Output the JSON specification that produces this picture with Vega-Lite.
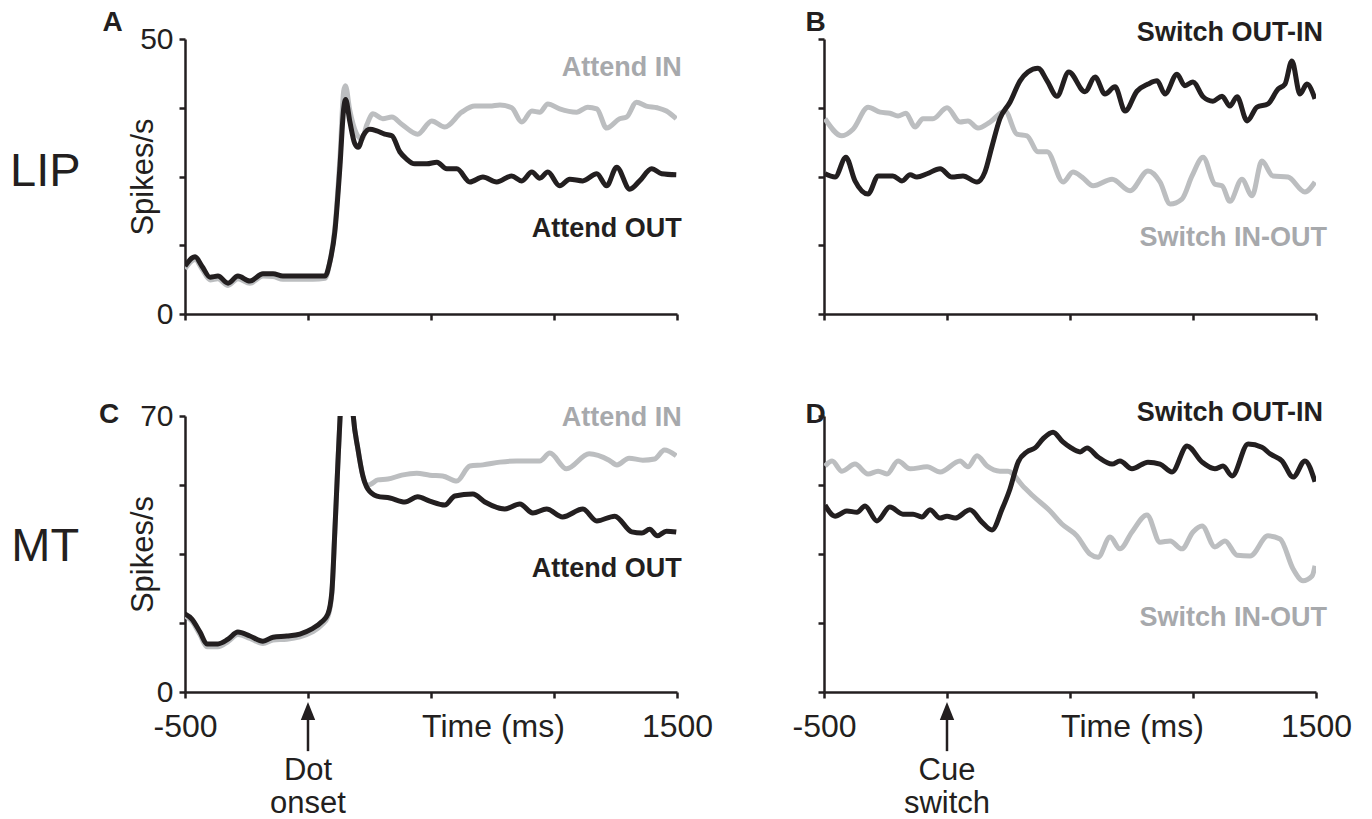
{
  "$schema": "https://vega.github.io/schema/vega-lite/v6.json",
  "background": "white",
  "padding": {"left": 9, "top": 9, "right": 5, "bottom": 2},
  "config": {
    "view": {"stroke": null},
    "font": "Liberation Sans",
    "axis": {
      "grid": false,
      "domainColor": "#231f20",
      "domainWidth": 2.5,
      "tickColor": "#231f20",
      "tickWidth": 2.5,
      "tickSize": 6,
      "labelFont": "Liberation Sans",
      "labelFontSize": 30,
      "labelColor": "#231f20",
      "labelFlush": false,
      "labelPadding": 6,
      "titleFont": "Liberation Sans",
      "titleFontSize": 31,
      "titleFontWeight": "normal",
      "titleColor": "#231f20"
    }
  },
  "columns": 2,
  "spacing": {"row": 102, "column": 147},
  "bounds": "flush",
  "datasets": {
    "A": [
      {"s":"o","t":-500,"v":8.7},{"s":"o","t":-459,"v":10.4},{"s":"o","t":-431,"v":8.7},{"s":"o","t":-398,"v":6.7},{"s":"o","t":-366,"v":6.9},{"s":"o","t":-325,"v":5.6},{"s":"o","t":-285,"v":6.9},{"s":"o","t":-236,"v":6.0},{"s":"o","t":-183,"v":7.3},{"s":"o","t":-142,"v":7.3},{"s":"o","t":-102,"v":6.9},{"s":"o","t":-33,"v":6.9},{"s":"o","t":20,"v":6.9},{"s":"o","t":69,"v":6.9},{"s":"o","t":89,"v":9.5},{"s":"o","t":109,"v":14.9},{"s":"o","t":130,"v":26.9},{"s":"o","t":145,"v":37.3},{"s":"o","t":153,"v":39.0},{"s":"o","t":170,"v":35.0},{"s":"o","t":190,"v":31.0},{"s":"o","t":204,"v":30.3},{"s":"o","t":225,"v":32.5},{"s":"o","t":251,"v":33.6},{"s":"o","t":280,"v":33.3},{"s":"o","t":312,"v":32.7},{"s":"o","t":341,"v":32.4},{"s":"o","t":373,"v":29.5},{"s":"o","t":400,"v":28.2},{"s":"o","t":434,"v":27.3},{"s":"o","t":483,"v":27.3},{"s":"o","t":524,"v":27.6},{"s":"o","t":564,"v":26.4},{"s":"o","t":605,"v":26.4},{"s":"o","t":658,"v":24.0},{"s":"o","t":711,"v":24.9},{"s":"o","t":767,"v":24.0},{"s":"o","t":828,"v":25.1},{"s":"o","t":869,"v":24.2},{"s":"o","t":910,"v":25.8},{"s":"o","t":942,"v":24.7},{"s":"o","t":975,"v":25.8},{"s":"o","t":1023,"v":23.3},{"s":"o","t":1064,"v":24.5},{"s":"o","t":1117,"v":24.2},{"s":"o","t":1174,"v":25.5},{"s":"o","t":1214,"v":23.3},{"s":"o","t":1255,"v":26.7},{"s":"o","t":1308,"v":22.7},{"s":"o","t":1348,"v":24.2},{"s":"o","t":1397,"v":26.4},{"s":"o","t":1438,"v":25.5},{"s":"o","t":1497,"v":25.3},
      {"s":"i","t":-500,"v":8.2},{"s":"i","t":-459,"v":9.9},{"s":"i","t":-431,"v":8.2},{"s":"i","t":-398,"v":6.2},{"s":"i","t":-366,"v":6.4},{"s":"i","t":-325,"v":5.2},{"s":"i","t":-285,"v":6.4},{"s":"i","t":-236,"v":5.6},{"s":"i","t":-183,"v":6.9},{"s":"i","t":-142,"v":6.8},{"s":"i","t":-102,"v":6.3},{"s":"i","t":-33,"v":6.3},{"s":"i","t":20,"v":6.3},{"s":"i","t":69,"v":6.5},{"s":"i","t":89,"v":9.5},{"s":"i","t":109,"v":15.5},{"s":"i","t":130,"v":28.5},{"s":"i","t":145,"v":40.5},{"s":"i","t":152,"v":41.5},{"s":"i","t":170,"v":37.0},{"s":"i","t":195,"v":33.0},{"s":"i","t":219,"v":31.8},{"s":"i","t":240,"v":34.5},{"s":"i","t":264,"v":36.4},{"s":"i","t":304,"v":35.5},{"s":"i","t":341,"v":35.8},{"s":"i","t":381,"v":34.5},{"s":"i","t":446,"v":32.7},{"s":"i","t":503,"v":35.1},{"s":"i","t":556,"v":34.0},{"s":"i","t":625,"v":36.7},{"s":"i","t":678,"v":37.8},{"s":"i","t":739,"v":37.8},{"s":"i","t":780,"v":38.0},{"s":"i","t":828,"v":37.5},{"s":"i","t":869,"v":34.9},{"s":"i","t":910,"v":36.9},{"s":"i","t":942,"v":36.7},{"s":"i","t":975,"v":38.2},{"s":"i","t":1023,"v":37.3},{"s":"i","t":1092,"v":36.7},{"s":"i","t":1137,"v":37.6},{"s":"i","t":1174,"v":37.3},{"s":"i","t":1214,"v":33.8},{"s":"i","t":1267,"v":35.5},{"s":"i","t":1295,"v":35.8},{"s":"i","t":1335,"v":38.5},{"s":"i","t":1375,"v":37.8},{"s":"i","t":1420,"v":37.5},{"s":"i","t":1457,"v":36.9},{"s":"i","t":1497,"v":35.5}
    ],
    "B": [
      {"s":"o","t":-496,"v":25.5},{"s":"o","t":-455,"v":24.9},{"s":"o","t":-411,"v":28.5},{"s":"o","t":-374,"v":24.2},{"s":"o","t":-321,"v":21.8},{"s":"o","t":-280,"v":25.1},{"s":"o","t":-220,"v":25.1},{"s":"o","t":-183,"v":24.2},{"s":"o","t":-150,"v":25.3},{"s":"o","t":-122,"v":24.9},{"s":"o","t":-81,"v":25.5},{"s":"o","t":-28,"v":26.4},{"s":"o","t":20,"v":24.9},{"s":"o","t":65,"v":25.1},{"s":"o","t":122,"v":24.0},{"s":"o","t":154,"v":25.8},{"s":"o","t":183,"v":30.5},{"s":"o","t":215,"v":35.5},{"s":"o","t":256,"v":38.5},{"s":"o","t":297,"v":42.4},{"s":"o","t":329,"v":44.0},{"s":"o","t":370,"v":44.7},{"s":"o","t":407,"v":42.4},{"s":"o","t":447,"v":39.6},{"s":"o","t":495,"v":44.0},{"s":"o","t":561,"v":40.4},{"s":"o","t":602,"v":43.1},{"s":"o","t":642,"v":40.0},{"s":"o","t":683,"v":41.3},{"s":"o","t":724,"v":36.9},{"s":"o","t":772,"v":40.5},{"s":"o","t":817,"v":41.8},{"s":"o","t":854,"v":42.4},{"s":"o","t":886,"v":40.0},{"s":"o","t":935,"v":43.6},{"s":"o","t":967,"v":41.5},{"s":"o","t":1000,"v":42.2},{"s":"o","t":1041,"v":39.5},{"s":"o","t":1081,"v":38.7},{"s":"o","t":1118,"v":39.6},{"s":"o","t":1150,"v":37.8},{"s":"o","t":1179,"v":39.5},{"s":"o","t":1220,"v":35.1},{"s":"o","t":1260,"v":37.6},{"s":"o","t":1305,"v":38.2},{"s":"o","t":1346,"v":40.9},{"s":"o","t":1374,"v":41.8},{"s":"o","t":1402,"v":46.0},{"s":"o","t":1435,"v":40.0},{"s":"o","t":1463,"v":41.8},{"s":"o","t":1496,"v":39.1},
      {"s":"i","t":-496,"v":35.5},{"s":"i","t":-427,"v":32.4},{"s":"i","t":-382,"v":33.6},{"s":"i","t":-321,"v":37.6},{"s":"i","t":-272,"v":36.7},{"s":"i","t":-232,"v":36.5},{"s":"i","t":-199,"v":36.0},{"s":"i","t":-167,"v":36.5},{"s":"i","t":-130,"v":34.0},{"s":"i","t":-98,"v":35.5},{"s":"i","t":-57,"v":35.5},{"s":"i","t":0,"v":37.5},{"s":"i","t":53,"v":34.9},{"s":"i","t":85,"v":35.1},{"s":"i","t":126,"v":33.8},{"s":"i","t":175,"v":34.9},{"s":"i","t":236,"v":36.9},{"s":"i","t":284,"v":32.7},{"s":"i","t":325,"v":32.4},{"s":"i","t":370,"v":29.5},{"s":"i","t":407,"v":29.5},{"s":"i","t":472,"v":24.0},{"s":"i","t":512,"v":25.8},{"s":"i","t":549,"v":24.9},{"s":"i","t":594,"v":23.3},{"s":"i","t":671,"v":24.5},{"s":"i","t":744,"v":22.4},{"s":"i","t":817,"v":26.0},{"s":"i","t":866,"v":24.0},{"s":"i","t":907,"v":20.0},{"s":"i","t":955,"v":20.9},{"s":"i","t":996,"v":25.1},{"s":"i","t":1041,"v":28.5},{"s":"i","t":1089,"v":23.6},{"s":"i","t":1118,"v":23.3},{"s":"i","t":1150,"v":20.5},{"s":"i","t":1199,"v":24.5},{"s":"i","t":1240,"v":21.5},{"s":"i","t":1280,"v":27.8},{"s":"i","t":1325,"v":25.1},{"s":"i","t":1386,"v":24.9},{"s":"i","t":1455,"v":22.2},{"s":"i","t":1496,"v":24.0}
    ],
    "C": [
      {"s":"o","t":-500,"v":19.8},{"s":"o","t":-472,"v":18.5},{"s":"o","t":-439,"v":15.2},{"s":"o","t":-411,"v":12.2},{"s":"o","t":-366,"v":12.2},{"s":"o","t":-325,"v":13.4},{"s":"o","t":-285,"v":15.2},{"s":"o","t":-236,"v":14.2},{"s":"o","t":-183,"v":12.9},{"s":"o","t":-142,"v":13.9},{"s":"o","t":-86,"v":14.2},{"s":"o","t":-33,"v":14.7},{"s":"o","t":16,"v":16.0},{"s":"o","t":56,"v":17.8},{"s":"o","t":81,"v":19.8},{"s":"o","t":97,"v":25.4},{"s":"o","t":109,"v":40.6},{"s":"o","t":121,"v":57.3},{"s":"o","t":130,"v":69.2},{"s":"o","t":145,"v":85},{"s":"o","t":160,"v":88},{"s":"o","t":175,"v":78},{"s":"o","t":184,"v":70},{"s":"o","t":203,"v":61.6},{"s":"o","t":223,"v":54.8},{"s":"o","t":243,"v":51.5},{"s":"o","t":280,"v":49.7},{"s":"o","t":333,"v":49.2},{"s":"o","t":394,"v":48.2},{"s":"o","t":446,"v":49.5},{"s":"o","t":495,"v":48.4},{"s":"o","t":556,"v":47.4},{"s":"o","t":597,"v":49.7},{"s":"o","t":670,"v":50.2},{"s":"o","t":719,"v":48.2},{"s":"o","t":800,"v":46.4},{"s":"o","t":861,"v":47.7},{"s":"o","t":914,"v":45.4},{"s":"o","t":970,"v":46.4},{"s":"o","t":1035,"v":44.4},{"s":"o","t":1117,"v":46.4},{"s":"o","t":1174,"v":43.4},{"s":"o","t":1247,"v":44.6},{"s":"o","t":1316,"v":40.6},{"s":"o","t":1357,"v":40.3},{"s":"o","t":1389,"v":41.3},{"s":"o","t":1420,"v":39.6},{"s":"o","t":1457,"v":40.8},{"s":"o","t":1497,"v":40.6},
      {"s":"i","t":-500,"v":19.3},{"s":"i","t":-472,"v":18.0},{"s":"i","t":-439,"v":14.5},{"s":"i","t":-411,"v":11.5},{"s":"i","t":-366,"v":11.5},{"s":"i","t":-325,"v":12.8},{"s":"i","t":-285,"v":14.6},{"s":"i","t":-236,"v":13.6},{"s":"i","t":-183,"v":12.3},{"s":"i","t":-142,"v":13.2},{"s":"i","t":-86,"v":13.4},{"s":"i","t":-33,"v":14.0},{"s":"i","t":16,"v":15.2},{"s":"i","t":56,"v":17.0},{"s":"i","t":81,"v":19.2},{"s":"i","t":97,"v":25.0},{"s":"i","t":109,"v":40.6},{"s":"i","t":121,"v":57.3},{"s":"i","t":130,"v":69.2},{"s":"i","t":145,"v":85},{"s":"i","t":160,"v":88},{"s":"i","t":175,"v":78},{"s":"i","t":184,"v":70},{"s":"i","t":203,"v":61.6},{"s":"i","t":223,"v":54.8},{"s":"i","t":240,"v":52.4},{"s":"i","t":255,"v":52.7},{"s":"i","t":284,"v":53.8},{"s":"i","t":325,"v":54.0},{"s":"i","t":381,"v":55.0},{"s":"i","t":442,"v":55.5},{"s":"i","t":495,"v":55.0},{"s":"i","t":547,"v":54.8},{"s":"i","t":605,"v":53.5},{"s":"i","t":658,"v":57.3},{"s":"i","t":711,"v":57.6},{"s":"i","t":780,"v":58.3},{"s":"i","t":848,"v":58.6},{"s":"i","t":942,"v":58.6},{"s":"i","t":983,"v":60.6},{"s":"i","t":1051,"v":56.6},{"s":"i","t":1143,"v":60.4},{"s":"i","t":1224,"v":58.8},{"s":"i","t":1256,"v":57.6},{"s":"i","t":1305,"v":59.3},{"s":"i","t":1361,"v":58.8},{"s":"i","t":1409,"v":59.1},{"s":"i","t":1449,"v":61.4},{"s":"i","t":1497,"v":59.9}
    ],
    "D": [
      {"s":"o","t":-496,"v":47.4},{"s":"o","t":-455,"v":44.6},{"s":"o","t":-407,"v":45.9},{"s":"o","t":-366,"v":45.6},{"s":"o","t":-333,"v":47.2},{"s":"o","t":-285,"v":43.4},{"s":"o","t":-232,"v":46.9},{"s":"o","t":-179,"v":45.1},{"s":"o","t":-138,"v":45.1},{"s":"o","t":-102,"v":44.4},{"s":"o","t":-69,"v":46.2},{"s":"o","t":-28,"v":44.1},{"s":"o","t":0,"v":44.6},{"s":"o","t":33,"v":44.1},{"s":"o","t":93,"v":46.2},{"s":"o","t":142,"v":43.1},{"s":"o","t":183,"v":41.1},{"s":"o","t":224,"v":46.4},{"s":"o","t":256,"v":51.5},{"s":"o","t":289,"v":58.3},{"s":"o","t":325,"v":60.9},{"s":"o","t":358,"v":61.9},{"s":"o","t":390,"v":64.2},{"s":"o","t":431,"v":65.9},{"s":"o","t":470,"v":63.5},{"s":"o","t":500,"v":62.1},{"s":"o","t":541,"v":60.9},{"s":"o","t":569,"v":61.9},{"s":"o","t":614,"v":59.6},{"s":"o","t":671,"v":57.8},{"s":"o","t":703,"v":58.6},{"s":"o","t":752,"v":56.6},{"s":"o","t":817,"v":58.3},{"s":"o","t":866,"v":57.8},{"s":"o","t":915,"v":55.8},{"s":"o","t":976,"v":62.4},{"s":"o","t":1037,"v":58.3},{"s":"o","t":1089,"v":56.6},{"s":"o","t":1122,"v":57.3},{"s":"o","t":1159,"v":54.8},{"s":"o","t":1224,"v":62.9},{"s":"o","t":1280,"v":62.1},{"s":"o","t":1313,"v":60.4},{"s":"o","t":1362,"v":58.6},{"s":"o","t":1407,"v":54.5},{"s":"o","t":1455,"v":58.6},{"s":"o","t":1496,"v":53.3},
      {"s":"i","t":-496,"v":57.3},{"s":"i","t":-467,"v":58.6},{"s":"i","t":-427,"v":56.0},{"s":"i","t":-374,"v":57.8},{"s":"i","t":-321,"v":55.3},{"s":"i","t":-280,"v":56.0},{"s":"i","t":-244,"v":55.3},{"s":"i","t":-199,"v":58.6},{"s":"i","t":-150,"v":56.6},{"s":"i","t":-81,"v":57.1},{"s":"i","t":-28,"v":55.8},{"s":"i","t":53,"v":58.6},{"s":"i","t":85,"v":57.1},{"s":"i","t":122,"v":59.9},{"s":"i","t":163,"v":57.3},{"s":"i","t":215,"v":56.0},{"s":"i","t":248,"v":56.0},{"s":"i","t":309,"v":52.2},{"s":"i","t":350,"v":49.7},{"s":"i","t":419,"v":45.9},{"s":"i","t":467,"v":42.6},{"s":"i","t":528,"v":39.6},{"s":"i","t":581,"v":35.0},{"s":"i","t":614,"v":34.2},{"s":"i","t":663,"v":39.3},{"s":"i","t":703,"v":36.3},{"s":"i","t":752,"v":40.6},{"s":"i","t":813,"v":44.9},{"s":"i","t":866,"v":38.0},{"s":"i","t":907,"v":38.3},{"s":"i","t":955,"v":36.3},{"s":"i","t":1000,"v":40.6},{"s":"i","t":1037,"v":42.1},{"s":"i","t":1089,"v":36.8},{"s":"i","t":1130,"v":38.3},{"s":"i","t":1179,"v":34.7},{"s":"i","t":1232,"v":34.5},{"s":"i","t":1305,"v":39.6},{"s":"i","t":1354,"v":38.8},{"s":"i","t":1407,"v":31.2},{"s":"i","t":1447,"v":28.2},{"s":"i","t":1484,"v":29.4},{"s":"i","t":1496,"v":32.0}
    ]
  },
  "concat": [
    {
      "width": 492, "height": 275,
      "layer": [
        {
          "data": {"name": "A"},
          "transform": [{"filter": "datum.s == 'i'"}],
          "mark": {"type": "line", "color": "#bcbec0", "strokeWidth": 5, "interpolate": "monotone", "clip": true, "strokeJoin": "round"},
          "encoding": {
            "x": {"field": "t", "type": "quantitative", "scale": {"domain": [-500, 1500], "nice": false, "zero": false},
                  "axis": {"values": [-500, 0, 500, 1000, 1500], "labels": false, "title": null}},
            "y": {"field": "v", "type": "quantitative", "scale": {"domain": [0, 50], "nice": false, "zero": false},
                  "axis": {"values": [0, 12.5, 25, 37.5, 50], "labelExpr": "datum.value == 0 || datum.value == 50 ? datum.label : ''",
                           "title": "Spikes/s", "titleX": -33, "titleY": 137.5, "titleAngle": -90, "titleBaseline": "alphabetic", "titleAlign": "center"}}
          }
        },
        {
          "data": {"name": "A"},
          "transform": [{"filter": "datum.s == 'o'"}],
          "mark": {"type": "line", "color": "#231f20", "strokeWidth": 5, "interpolate": "monotone", "clip": true, "strokeJoin": "round"},
          "encoding": {
            "x": {"field": "t", "type": "quantitative", "scale": {"domain": [-500, 1500], "nice": false, "zero": false}},
            "y": {"field": "v", "type": "quantitative", "scale": {"domain": [0, 50], "nice": false, "zero": false}}
          }
        },
        {
          "data": {"values": [{"label": "Attend IN"}]},
          "mark": {"type": "text", "align": "right", "baseline": "alphabetic", "fontWeight": "bold", "fontSize": 27, "color": "#a7a9ac"},
          "encoding": {
            "text": {"field": "label"},
            "x": {"datum": 1519, "type": "quantitative", "scale": {"domain": [-500, 1500], "nice": false, "zero": false}},
            "y": {"datum": 43.3, "type": "quantitative", "scale": {"domain": [0, 50], "nice": false, "zero": false}}
          }
        },
        {
          "data": {"values": [{"label": "Attend OUT"}]},
          "mark": {"type": "text", "align": "right", "baseline": "alphabetic", "fontWeight": "bold", "fontSize": 27, "color": "#231f20"},
          "encoding": {
            "text": {"field": "label"},
            "x": {"datum": 1519, "type": "quantitative", "scale": {"domain": [-500, 1500], "nice": false, "zero": false}},
            "y": {"datum": 14.0, "type": "quantitative", "scale": {"domain": [0, 50], "nice": false, "zero": false}}
          }
        },
        {
          "data": {"values": [{"label": "A"}]},
          "mark": {"type": "text", "align": "left", "baseline": "alphabetic", "fontWeight": "bold", "fontSize": 28, "color": "#231f20"},
          "encoding": {
            "text": {"field": "label"},
            "x": {"datum": -835, "type": "quantitative", "scale": {"domain": [-500, 1500], "nice": false, "zero": false}},
            "y": {"datum": 51.4, "type": "quantitative", "scale": {"domain": [0, 50], "nice": false, "zero": false}}
          }
        },
        {
          "data": {"values": [{"label": "LIP"}]},
          "mark": {"type": "text", "align": "center", "baseline": "alphabetic", "fontSize": 47, "color": "#231f20"},
          "encoding": {
            "text": {"field": "label"},
            "x": {"datum": -1068, "type": "quantitative", "scale": {"domain": [-500, 1500], "nice": false, "zero": false}},
            "y": {"datum": 23.2, "type": "quantitative", "scale": {"domain": [0, 50], "nice": false, "zero": false}}
          }
        }
      ]
    },
    {
      "width": 492, "height": 275,
      "layer": [
        {
          "data": {"name": "B"},
          "transform": [{"filter": "datum.s == 'i'"}],
          "mark": {"type": "line", "color": "#bcbec0", "strokeWidth": 5, "interpolate": "monotone", "clip": true, "strokeJoin": "round"},
          "encoding": {
            "x": {"field": "t", "type": "quantitative", "scale": {"domain": [-500, 1500], "nice": false, "zero": false},
                  "axis": {"values": [-500, 0, 500, 1000, 1500], "labels": false, "title": null}},
            "y": {"field": "v", "type": "quantitative", "scale": {"domain": [0, 50], "nice": false, "zero": false},
                  "axis": {"values": [0, 12.5, 25, 37.5, 50], "labels": false, "title": null}}
          }
        },
        {
          "data": {"name": "B"},
          "transform": [{"filter": "datum.s == 'o'"}],
          "mark": {"type": "line", "color": "#231f20", "strokeWidth": 5, "interpolate": "monotone", "clip": true, "strokeJoin": "round"},
          "encoding": {
            "x": {"field": "t", "type": "quantitative", "scale": {"domain": [-500, 1500], "nice": false, "zero": false}},
            "y": {"field": "v", "type": "quantitative", "scale": {"domain": [0, 50], "nice": false, "zero": false}}
          }
        },
        {
          "data": {"values": [{"label": "Switch OUT-IN"}]},
          "mark": {"type": "text", "align": "right", "baseline": "alphabetic", "fontWeight": "bold", "fontSize": 27, "color": "#231f20"},
          "encoding": {
            "text": {"field": "label"},
            "x": {"datum": 1528, "type": "quantitative", "scale": {"domain": [-500, 1500], "nice": false, "zero": false}},
            "y": {"datum": 49.6, "type": "quantitative", "scale": {"domain": [0, 50], "nice": false, "zero": false}}
          }
        },
        {
          "data": {"values": [{"label": "Switch IN-OUT"}]},
          "mark": {"type": "text", "align": "right", "baseline": "alphabetic", "fontWeight": "bold", "fontSize": 27, "color": "#a7a9ac"},
          "encoding": {
            "text": {"field": "label"},
            "x": {"datum": 1545, "type": "quantitative", "scale": {"domain": [-500, 1500], "nice": false, "zero": false}},
            "y": {"datum": 12.4, "type": "quantitative", "scale": {"domain": [0, 50], "nice": false, "zero": false}}
          }
        },
        {
          "data": {"values": [{"label": "B"}]},
          "mark": {"type": "text", "align": "left", "baseline": "alphabetic", "fontWeight": "bold", "fontSize": 28, "color": "#231f20"},
          "encoding": {
            "text": {"field": "label"},
            "x": {"datum": -575, "type": "quantitative", "scale": {"domain": [-500, 1500], "nice": false, "zero": false}},
            "y": {"datum": 51.4, "type": "quantitative", "scale": {"domain": [0, 50], "nice": false, "zero": false}}
          }
        }
      ]
    },
    {
      "width": 492, "height": 276,
      "layer": [
        {
          "data": {"name": "C"},
          "transform": [{"filter": "datum.s == 'i'"}],
          "mark": {"type": "line", "color": "#bcbec0", "strokeWidth": 5, "interpolate": "monotone", "clip": true, "strokeJoin": "round"},
          "encoding": {
            "x": {"field": "t", "type": "quantitative", "scale": {"domain": [-500, 1500], "nice": false, "zero": false},
                  "axis": {"values": [-500, 0, 500, 1000, 1500], "labelExpr": "datum.value == -500 ? '-500' : datum.value == 1500 ? '1500' : ''",
                           "labelBaseline": "alphabetic", "labelPadding": 38, "labelFontSize": 32,
                           "title": "Time (ms)", "titleFontSize": 32, "titleX": 308, "titleY": 44, "titleBaseline": "alphabetic", "titleAlign": "center"}},
            "y": {"field": "v", "type": "quantitative", "scale": {"domain": [0, 70], "nice": false, "zero": false},
                  "axis": {"values": [0, 17.5, 35, 52.5, 70], "labelExpr": "datum.value == 0 || datum.value == 70 ? datum.label : ''",
                           "title": "Spikes/s", "titleX": -33, "titleY": 138, "titleAngle": -90, "titleBaseline": "alphabetic", "titleAlign": "center"}}
          }
        },
        {
          "data": {"name": "C"},
          "transform": [{"filter": "datum.s == 'o'"}],
          "mark": {"type": "line", "color": "#231f20", "strokeWidth": 5, "interpolate": "monotone", "clip": true, "strokeJoin": "round"},
          "encoding": {
            "x": {"field": "t", "type": "quantitative", "scale": {"domain": [-500, 1500], "nice": false, "zero": false}},
            "y": {"field": "v", "type": "quantitative", "scale": {"domain": [0, 70], "nice": false, "zero": false}}
          }
        },
        {
          "data": {"values": [{"label": "Attend IN"}]},
          "mark": {"type": "text", "align": "right", "baseline": "alphabetic", "fontWeight": "bold", "fontSize": 27, "color": "#a7a9ac"},
          "encoding": {
            "text": {"field": "label"},
            "x": {"datum": 1519, "type": "quantitative", "scale": {"domain": [-500, 1500], "nice": false, "zero": false}},
            "y": {"datum": 67.5, "type": "quantitative", "scale": {"domain": [0, 70], "nice": false, "zero": false}}
          }
        },
        {
          "data": {"values": [{"label": "Attend OUT"}]},
          "mark": {"type": "text", "align": "right", "baseline": "alphabetic", "fontWeight": "bold", "fontSize": 27, "color": "#231f20"},
          "encoding": {
            "text": {"field": "label"},
            "x": {"datum": 1519, "type": "quantitative", "scale": {"domain": [-500, 1500], "nice": false, "zero": false}},
            "y": {"datum": 29.2, "type": "quantitative", "scale": {"domain": [0, 70], "nice": false, "zero": false}}
          }
        },
        {
          "data": {"values": [{"label": "C"}]},
          "mark": {"type": "text", "align": "left", "baseline": "alphabetic", "fontWeight": "bold", "fontSize": 28, "color": "#231f20"},
          "encoding": {
            "text": {"field": "label"},
            "x": {"datum": -850, "type": "quantitative", "scale": {"domain": [-500, 1500], "nice": false, "zero": false}},
            "y": {"datum": 68.3, "type": "quantitative", "scale": {"domain": [0, 70], "nice": false, "zero": false}}
          }
        },
        {
          "data": {"values": [{"label": "MT"}]},
          "mark": {"type": "text", "align": "center", "baseline": "alphabetic", "fontSize": 47, "color": "#231f20"},
          "encoding": {
            "text": {"field": "label"},
            "x": {"datum": -1068, "type": "quantitative", "scale": {"domain": [-500, 1500], "nice": false, "zero": false}},
            "y": {"datum": 33.2, "type": "quantitative", "scale": {"domain": [0, 70], "nice": false, "zero": false}}
          }
        },
        {
          "data": {"values": [{"label": "arrow"}]},
          "mark": {"type": "rule", "color": "#231f20", "strokeWidth": 2.5},
          "encoding": {
            "x": {"datum": 0, "type": "quantitative", "scale": {"domain": [-500, 1500], "nice": false, "zero": false}},
            "y": {"datum": -5.5, "type": "quantitative", "scale": {"domain": [0, 70], "nice": false, "zero": false}},
            "y2": {"datum": -15.0}
          }
        },
        {
          "data": {"values": [{"label": "arrowhead"}]},
          "mark": {"type": "point", "shape": "M-0.4,0.5L0,-0.5L0.4,0.5Z", "size": 1296, "filled": true, "color": "#231f20", "opacity": 1, "strokeWidth": 0},
          "encoding": {
            "x": {"datum": 0, "type": "quantitative", "scale": {"domain": [-500, 1500], "nice": false, "zero": false}},
            "y": {"datum": -4.8, "type": "quantitative", "scale": {"domain": [0, 70], "nice": false, "zero": false}}
          }
        },
        {
          "data": {"values": [{"label": "Dot"}]},
          "mark": {"type": "text", "align": "center", "baseline": "alphabetic", "fontSize": 31, "color": "#231f20"},
          "encoding": {
            "text": {"field": "label"},
            "x": {"datum": 0, "type": "quantitative", "scale": {"domain": [-500, 1500], "nice": false, "zero": false}},
            "y": {"datum": -22.4, "type": "quantitative", "scale": {"domain": [0, 70], "nice": false, "zero": false}}
          }
        },
        {
          "data": {"values": [{"label": "onset"}]},
          "mark": {"type": "text", "align": "center", "baseline": "alphabetic", "fontSize": 31, "color": "#231f20"},
          "encoding": {
            "text": {"field": "label"},
            "x": {"datum": 0, "type": "quantitative", "scale": {"domain": [-500, 1500], "nice": false, "zero": false}},
            "y": {"datum": -30.7, "type": "quantitative", "scale": {"domain": [0, 70], "nice": false, "zero": false}}
          }
        }
      ]
    },
    {
      "width": 492, "height": 276,
      "layer": [
        {
          "data": {"name": "D"},
          "transform": [{"filter": "datum.s == 'i'"}],
          "mark": {"type": "line", "color": "#bcbec0", "strokeWidth": 5, "interpolate": "monotone", "clip": true, "strokeJoin": "round"},
          "encoding": {
            "x": {"field": "t", "type": "quantitative", "scale": {"domain": [-500, 1500], "nice": false, "zero": false},
                  "axis": {"values": [-500, 0, 500, 1000, 1500], "labelExpr": "datum.value == -500 ? '-500' : datum.value == 1500 ? '1500' : ''",
                           "labelBaseline": "alphabetic", "labelPadding": 38, "labelFontSize": 32,
                           "title": "Time (ms)", "titleFontSize": 32, "titleX": 308, "titleY": 44, "titleBaseline": "alphabetic", "titleAlign": "center"}},
            "y": {"field": "v", "type": "quantitative", "scale": {"domain": [0, 70], "nice": false, "zero": false},
                  "axis": {"values": [0, 17.5, 35, 52.5, 70], "labels": false, "title": null}}
          }
        },
        {
          "data": {"name": "D"},
          "transform": [{"filter": "datum.s == 'o'"}],
          "mark": {"type": "line", "color": "#231f20", "strokeWidth": 5, "interpolate": "monotone", "clip": true, "strokeJoin": "round"},
          "encoding": {
            "x": {"field": "t", "type": "quantitative", "scale": {"domain": [-500, 1500], "nice": false, "zero": false}},
            "y": {"field": "v", "type": "quantitative", "scale": {"domain": [0, 70], "nice": false, "zero": false}}
          }
        },
        {
          "data": {"values": [{"label": "Switch OUT-IN"}]},
          "mark": {"type": "text", "align": "right", "baseline": "alphabetic", "fontWeight": "bold", "fontSize": 27, "color": "#231f20"},
          "encoding": {
            "text": {"field": "label"},
            "x": {"datum": 1528, "type": "quantitative", "scale": {"domain": [-500, 1500], "nice": false, "zero": false}},
            "y": {"datum": 68.7, "type": "quantitative", "scale": {"domain": [0, 70], "nice": false, "zero": false}}
          }
        },
        {
          "data": {"values": [{"label": "Switch IN-OUT"}]},
          "mark": {"type": "text", "align": "right", "baseline": "alphabetic", "fontWeight": "bold", "fontSize": 27, "color": "#a7a9ac"},
          "encoding": {
            "text": {"field": "label"},
            "x": {"datum": 1545, "type": "quantitative", "scale": {"domain": [-500, 1500], "nice": false, "zero": false}},
            "y": {"datum": 16.7, "type": "quantitative", "scale": {"domain": [0, 70], "nice": false, "zero": false}}
          }
        },
        {
          "data": {"values": [{"label": "D"}]},
          "mark": {"type": "text", "align": "left", "baseline": "alphabetic", "fontWeight": "bold", "fontSize": 28, "color": "#231f20"},
          "encoding": {
            "text": {"field": "label"},
            "x": {"datum": -575, "type": "quantitative", "scale": {"domain": [-500, 1500], "nice": false, "zero": false}},
            "y": {"datum": 68.3, "type": "quantitative", "scale": {"domain": [0, 70], "nice": false, "zero": false}}
          }
        },
        {
          "data": {"values": [{"label": "arrow"}]},
          "mark": {"type": "rule", "color": "#231f20", "strokeWidth": 2.5},
          "encoding": {
            "x": {"datum": 0, "type": "quantitative", "scale": {"domain": [-500, 1500], "nice": false, "zero": false}},
            "y": {"datum": -5.5, "type": "quantitative", "scale": {"domain": [0, 70], "nice": false, "zero": false}},
            "y2": {"datum": -15.0}
          }
        },
        {
          "data": {"values": [{"label": "arrowhead"}]},
          "mark": {"type": "point", "shape": "M-0.4,0.5L0,-0.5L0.4,0.5Z", "size": 1296, "filled": true, "color": "#231f20", "opacity": 1, "strokeWidth": 0},
          "encoding": {
            "x": {"datum": 0, "type": "quantitative", "scale": {"domain": [-500, 1500], "nice": false, "zero": false}},
            "y": {"datum": -4.8, "type": "quantitative", "scale": {"domain": [0, 70], "nice": false, "zero": false}}
          }
        },
        {
          "data": {"values": [{"label": "Cue"}]},
          "mark": {"type": "text", "align": "center", "baseline": "alphabetic", "fontSize": 31, "color": "#231f20"},
          "encoding": {
            "text": {"field": "label"},
            "x": {"datum": 0, "type": "quantitative", "scale": {"domain": [-500, 1500], "nice": false, "zero": false}},
            "y": {"datum": -22.4, "type": "quantitative", "scale": {"domain": [0, 70], "nice": false, "zero": false}}
          }
        },
        {
          "data": {"values": [{"label": "switch"}]},
          "mark": {"type": "text", "align": "center", "baseline": "alphabetic", "fontSize": 31, "color": "#231f20"},
          "encoding": {
            "text": {"field": "label"},
            "x": {"datum": 0, "type": "quantitative", "scale": {"domain": [-500, 1500], "nice": false, "zero": false}},
            "y": {"datum": -30.7, "type": "quantitative", "scale": {"domain": [0, 70], "nice": false, "zero": false}}
          }
        }
      ]
    }
  ]
}
